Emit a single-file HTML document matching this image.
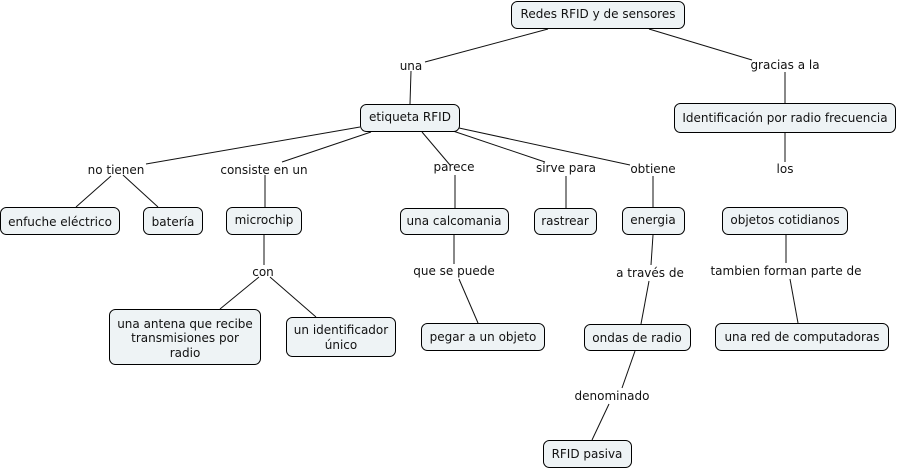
<!DOCTYPE html>
<html><head><meta charset="utf-8"><style>
html,body{margin:0;padding:0;background:#fff}
svg{display:block}
rect{fill:#eef3f5;stroke:#000;stroke-width:1}
line{stroke:#111;stroke-width:1}
text{font-family:"DejaVu Sans",sans-serif;font-size:12px;fill:#111;text-anchor:middle}
</style></head><body>
<svg width="898" height="470" viewBox="0 0 898 470" xmlns="http://www.w3.org/2000/svg">
<line x1="548" y1="29" x2="425" y2="62"/><line x1="411" y1="71" x2="410" y2="104"/>
<line x1="649" y1="29" x2="752" y2="60"/><line x1="785" y1="72" x2="785" y2="103"/>
<line x1="360" y1="127" x2="146" y2="164"/><line x1="371" y1="132" x2="282" y2="162"/>
<line x1="422" y1="132" x2="450" y2="165"/><line x1="453" y1="131" x2="545" y2="162"/>
<line x1="459" y1="128" x2="630" y2="165"/>
<line x1="785" y1="132" x2="785" y2="162"/>
<line x1="111" y1="176" x2="76" y2="207"/><line x1="123" y1="175" x2="158" y2="207"/>
<line x1="265" y1="175" x2="265" y2="207"/><line x1="264" y1="235" x2="264" y2="265"/>
<line x1="259" y1="277" x2="220" y2="309"/><line x1="270" y1="277" x2="316" y2="317"/>
<line x1="455" y1="175" x2="455" y2="208"/><line x1="454" y1="235" x2="454" y2="264"/>
<line x1="459" y1="279" x2="478" y2="323"/>
<line x1="566" y1="176" x2="566" y2="208"/><line x1="653" y1="176" x2="653" y2="207"/>
<line x1="653" y1="235" x2="651" y2="265"/><line x1="649" y1="281" x2="641" y2="324"/>
<line x1="635" y1="351" x2="622" y2="388"/><line x1="609" y1="404" x2="592" y2="440"/>
<line x1="786" y1="235" x2="786" y2="263"/><line x1="790" y1="279" x2="798" y2="323"/>
<rect x="511.500" y="1.500" width="173" height="27" rx="6"/>
<rect x="360.500" y="104.500" width="99" height="27" rx="6"/>
<rect x="674.500" y="103.500" width="221" height="29" rx="6"/>
<rect x="0.500" y="207.500" width="119" height="27" rx="6"/>
<rect x="143.500" y="207.500" width="59" height="27" rx="6"/>
<rect x="226.500" y="207.500" width="75" height="27" rx="6"/>
<rect x="400.500" y="208.500" width="108" height="26" rx="6"/>
<rect x="534.500" y="208.500" width="62" height="26" rx="6"/>
<rect x="622.500" y="207.500" width="62" height="27" rx="6"/>
<rect x="722.500" y="207.500" width="125" height="27" rx="6"/>
<rect x="109.500" y="309.500" width="151" height="55" rx="6"/>
<rect x="286.500" y="317.500" width="109" height="39" rx="6"/>
<rect x="421.500" y="323.500" width="123" height="27" rx="6"/>
<rect x="584.500" y="324.500" width="106" height="26" rx="6"/>
<rect x="715.500" y="323.500" width="173" height="27" rx="6"/>
<rect x="543.500" y="440.500" width="88" height="27" rx="6"/>
<text x="598" y="18">Redes RFID y de sensores</text>
<text x="410" y="121">etiqueta RFID</text>
<text x="785" y="122">Identificación por radio frecuencia</text>
<text x="60" y="226">enfuche eléctrico</text>
<text x="173" y="226">batería</text>
<text x="264" y="224">microchip</text>
<text x="454" y="225">una calcomania</text>
<text x="565" y="225">rastrear</text>
<text x="653" y="224">energia</text>
<text x="785" y="224">objetos cotidianos</text>
<text x="185" y="328">una antena que recibe</text>
<text x="185" y="342">transmisiones por</text>
<text x="185" y="357">radio</text>
<text x="341" y="334">un identificador</text>
<text x="341" y="349">único</text>
<text x="483" y="341">pegar a un objeto</text>
<text x="637" y="342">ondas de radio</text>
<text x="802" y="341">una red de computadoras</text>
<text x="587" y="458">RFID pasiva</text>
<text x="411" y="70">una</text>
<text x="785" y="69">gracias a la</text>
<text x="116" y="174">no tienen</text>
<text x="264" y="174">consiste en un</text>
<text x="454" y="171">parece</text>
<text x="566" y="172">sirve para</text>
<text x="653" y="173">obtiene</text>
<text x="785" y="173">los</text>
<text x="263" y="276">con</text>
<text x="454" y="275">que se puede</text>
<text x="650" y="277">a través de</text>
<text x="786" y="275">tambien forman parte de</text>
<text x="612" y="400">denominado</text>
</svg>
</body></html>
